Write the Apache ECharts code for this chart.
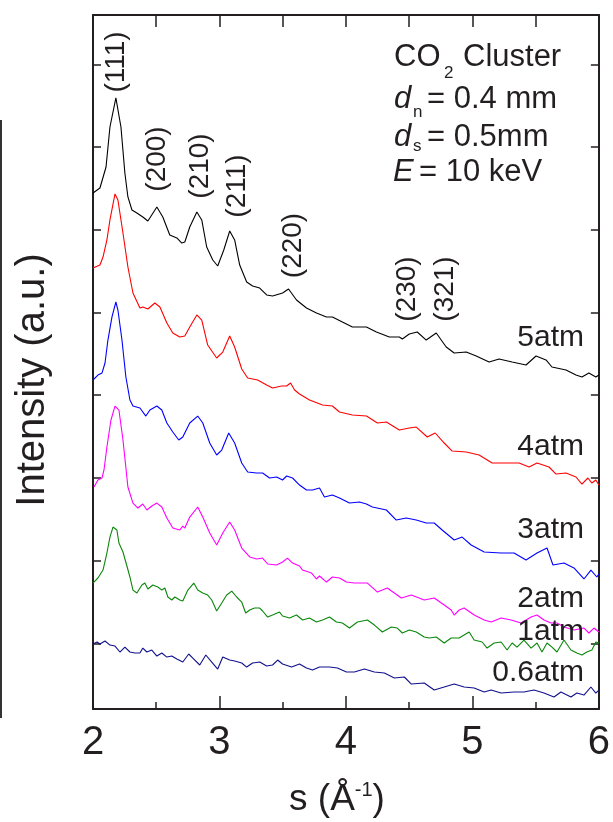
<!DOCTYPE html>
<html>
<head>
<meta charset="utf-8">
<script src="https://cdn.jsdelivr.net/npm/echarts@6/dist/echarts.min.js"></script>
<style>
html,body{margin:0;padding:0;background:#fff;}
#c{width:613px;height:822px;}
</style>
</head>
<body>
<div id="c"></div>
<script>
// s (1/Angstrom) and intensity (a.u.) for each pressure
const s5 = [2.000,2.055,2.103,2.134,2.181,2.221,2.252,2.276,2.308,2.347,2.394,2.434,2.505,2.552,2.607,2.663,2.702,2.726,2.765,2.821,2.860,2.899,2.947,2.986,3.034,3.081,3.120,3.160,3.215,3.262,3.318,3.373,3.420,3.499,3.546,3.609,3.688,3.767,3.846,3.893,3.972,4.051,4.162,4.241,4.343,4.422,4.446,4.501,4.564,4.635,4.714,4.793,4.856,4.951,5.030,5.132,5.211,5.314,5.424,5.503,5.582,5.629,5.740,5.819,5.866,5.921,5.976,6.000];
const i5 = [64.45,65.05,67.59,72.43,75.94,72.43,66.87,63.97,62.39,62.03,61.55,61.06,62.76,61.55,59.37,59.01,58.40,58.52,60.34,62.15,61.19,57.92,56.35,55.62,57.56,59.85,58.77,55.74,53.69,53.20,52.96,52.12,52.00,52.36,52.84,51.51,50.54,49.94,49.46,49.46,48.85,48.25,48.25,47.64,47.04,47.04,46.80,47.40,47.64,46.67,47.52,45.83,45.10,45.22,44.74,44.01,44.38,44.01,43.65,44.74,44.26,43.41,43.05,42.44,42.20,42.68,42.20,42.44];

const s4 = [2.000,2.055,2.079,2.110,2.134,2.174,2.197,2.237,2.276,2.316,2.371,2.394,2.434,2.489,2.529,2.584,2.631,2.686,2.726,2.765,2.821,2.860,2.907,2.978,3.026,3.081,3.120,3.176,3.223,3.302,3.373,3.420,3.491,3.531,3.562,3.594,3.633,3.712,3.815,3.893,3.949,4.051,4.162,4.249,4.320,4.422,4.501,4.556,4.643,4.706,4.777,4.840,4.951,5.053,5.156,5.266,5.369,5.448,5.511,5.606,5.661,5.740,5.819,5.866,5.913,5.945,5.976,6.000];
const i4 = [55.38,55.74,56.71,58.77,61.19,64.33,63.60,59.61,55.50,52.36,50.54,50.67,50.42,51.15,50.67,48.73,47.52,47.04,47.16,48.25,49.70,49.09,46.07,44.50,45.22,47.16,45.83,43.17,42.08,41.84,41.23,40.87,41.11,41.11,41.48,40.63,40.15,39.42,38.81,38.69,37.97,37.61,37.48,36.64,36.76,35.79,36.03,36.15,34.95,35.43,34.22,33.25,33.13,32.77,31.80,31.80,31.80,31.32,31.80,31.32,30.47,30.59,30.11,29.26,29.99,29.38,29.75,29.14];

const s3 = [2.000,2.039,2.071,2.095,2.118,2.150,2.181,2.197,2.229,2.260,2.292,2.316,2.371,2.418,2.450,2.505,2.544,2.584,2.631,2.678,2.710,2.765,2.828,2.868,2.923,2.978,3.018,3.073,3.120,3.176,3.223,3.294,3.341,3.396,3.452,3.499,3.531,3.578,3.633,3.688,3.736,3.791,3.830,3.893,3.949,4.028,4.107,4.162,4.209,4.320,4.398,4.477,4.556,4.635,4.698,4.761,4.856,4.919,4.990,5.093,5.227,5.329,5.424,5.511,5.590,5.637,5.724,5.803,5.882,5.937,5.984,6.000];
const i3 = [41.84,42.44,42.68,43.89,46.67,49.46,51.27,50.30,46.67,42.20,39.42,38.69,38.45,37.48,38.21,38.69,38.21,36.64,35.55,34.58,34.95,36.64,37.48,36.64,34.22,32.77,33.37,35.43,34.22,31.80,30.71,30.59,30.59,29.99,30.11,29.75,30.23,29.99,29.14,28.54,28.54,28.78,27.69,27.93,27.57,26.96,27.09,26.84,26.48,26.12,24.91,25.15,24.91,24.55,24.55,23.70,22.49,22.85,21.89,21.04,20.92,20.92,20.07,20.92,21.52,19.47,19.71,19.11,17.78,18.86,18.02,18.38];

const s2 = [2.008,2.039,2.071,2.087,2.110,2.142,2.174,2.205,2.237,2.276,2.316,2.355,2.394,2.426,2.465,2.505,2.544,2.584,2.631,2.686,2.710,2.726,2.765,2.828,2.868,2.923,2.978,3.026,3.081,3.120,3.176,3.239,3.294,3.341,3.381,3.452,3.499,3.538,3.578,3.633,3.657,3.728,3.767,3.791,3.846,3.893,3.949,4.004,4.067,4.170,4.249,4.327,4.438,4.517,4.619,4.698,4.777,4.832,4.856,4.895,4.935,5.014,5.093,5.148,5.227,5.306,5.385,5.464,5.511,5.566,5.621,5.669,5.724,5.803,5.882,5.921,5.961,6.000];
const i2 = [28.90,29.75,29.99,30.96,33.74,37.00,38.69,38.21,34.58,28.90,26.96,26.36,26.84,26.12,26.60,26.96,26.48,25.15,23.94,23.70,24.18,23.94,25.27,26.48,25.27,23.34,21.89,23.34,24.67,23.70,21.52,20.44,20.19,20.31,19.59,19.47,19.83,20.31,19.71,19.35,18.86,18.50,17.78,18.14,17.41,18.02,17.90,17.41,17.29,17.29,16.20,16.69,15.48,15.84,15.24,15.48,14.63,14.03,13.42,14.03,14.27,13.42,12.82,12.58,13.06,12.82,12.45,13.18,13.42,12.82,12.45,12.45,11.97,11.61,11.85,11.25,11.85,11.37];

const s1 = [2.000,2.039,2.079,2.110,2.134,2.158,2.189,2.205,2.237,2.268,2.292,2.316,2.347,2.387,2.410,2.434,2.473,2.513,2.544,2.568,2.592,2.623,2.647,2.686,2.710,2.750,2.797,2.828,2.868,2.907,2.939,2.978,3.018,3.057,3.097,3.136,3.176,3.207,3.239,3.278,3.318,3.341,3.381,3.420,3.475,3.499,3.554,3.609,3.657,3.712,3.767,3.815,3.870,3.925,3.972,4.028,4.091,4.170,4.225,4.288,4.359,4.406,4.446,4.501,4.556,4.619,4.659,4.714,4.777,4.832,4.895,4.974,5.014,5.077,5.116,5.172,5.227,5.274,5.314,5.353,5.408,5.464,5.511,5.550,5.590,5.629,5.669,5.724,5.779,5.826,5.866,5.905,5.945,5.976,6.000];
const i1 = [17.29,17.90,18.86,20.92,22.85,24.06,23.70,22.13,21.04,19.35,18.02,16.44,16.08,17.05,17.29,16.57,17.05,16.81,16.44,16.69,15.60,15.24,15.60,15.24,15.11,16.44,17.29,16.44,16.08,15.84,15.24,13.91,14.87,15.84,16.32,15.60,14.99,13.66,14.03,14.27,14.27,13.91,13.18,13.42,13.78,13.30,13.06,13.42,12.82,13.06,12.58,12.82,13.18,12.58,12.45,11.85,12.58,12.82,12.21,11.37,11.97,11.85,11.25,11.61,11.37,10.76,10.64,10.76,10.04,10.64,10.64,11.37,10.40,10.16,9.43,10.04,10.16,9.19,10.04,9.55,10.40,9.43,10.04,8.95,10.04,9.55,8.95,10.40,9.19,8.83,8.59,8.95,9.19,10.16,10.04];

const s06 = [2.000,2.032,2.055,2.095,2.134,2.174,2.213,2.252,2.292,2.331,2.371,2.394,2.426,2.465,2.505,2.544,2.584,2.623,2.663,2.710,2.757,2.789,2.844,2.892,2.939,2.986,3.026,3.081,3.120,3.176,3.215,3.262,3.318,3.373,3.420,3.460,3.499,3.570,3.633,3.688,3.736,3.791,3.870,3.933,4.004,4.067,4.146,4.225,4.304,4.383,4.462,4.517,4.619,4.698,4.777,4.856,4.935,5.014,5.093,5.148,5.227,5.329,5.408,5.487,5.566,5.645,5.700,5.779,5.826,5.882,5.937,5.976,6.000];
const i06 = [9.92,10.16,9.92,10.28,9.79,9.67,8.95,9.55,8.95,8.83,8.83,9.43,8.95,9.19,8.46,8.83,8.34,8.46,8.10,7.74,8.71,8.22,7.38,8.59,7.74,6.89,8.34,7.98,7.86,7.62,7.13,7.62,7.74,7.26,7.38,7.98,7.50,7.13,7.50,7.01,6.77,7.13,7.13,7.01,6.53,6.53,6.89,6.53,6.41,5.80,5.93,5.08,5.20,4.35,4.72,5.08,4.72,4.59,4.11,4.35,3.99,4.11,4.11,4.35,3.99,3.51,4.11,3.51,3.99,3.75,4.72,3.99,4.35];

const xTicks = [2, 3, 4, 5, 6];
const yTickValues = [10, 20, 30, 40, 50, 60, 70, 80];
const pressureLabels = ['5atm', '4atm', '3atm', '2atm', '1atm', '0.6atm'];
const peakLabels = ['(111)', '(200)', '(210)', '(211)', '(220)', '(230)', '(321)'];

function pairs(s, v) {
  const n = Math.min(s.length, v.length);
  const out = [];
  for (let k = 0; k < n; k++) out.push([s[k], v[k]]);
  return out;
}

const FONT = '"Liberation Sans", Arial, Helvetica, sans-serif';
const INK = '#231f20';
const seriesDefs = [
  { name: '5atm', s: s5, v: i5, color: '#000000' },
  { name: '4atm', s: s4, v: i4, color: '#ff0000' },
  { name: '3atm', s: s3, v: i3, color: '#0000ff' },
  { name: '2atm', s: s2, v: i2, color: '#ff00ff' },
  { name: '1atm', s: s1, v: i1, color: '#0b870b' },
  { name: '0.6atm', s: s06, v: i06, color: '#10108c' }
];

const chart = echarts.init(document.getElementById('c'), null, { renderer: 'canvas' });

function txt(x, y, text, size, opts) {
  opts = opts || {};
  return {
    type: 'text', x: x, y: y, rotation: opts.rot || 0, z: 100,
    style: {
      text: text, x: 0, y: 0,
      font: (opts.italic ? 'italic ' : '') + size + 'px ' + FONT,
      fill: INK,
      textAlign: opts.align || 'left',
      textVerticalAlign: 'middle',
      rich: opts.rich
    }
  };
}

const pressurePos = [338, 447, 530, 599, 632, 673];
const peakPos = [[116, 62], [157.5, 159], [200, 166], [237, 186], [293, 245.5], [407, 289], [445, 289]];

const graphics = [];
// left edge artifact line
graphics.push({ type: 'line', shape: { x1: 1, y1: 120, x2: 1, y2: 718 }, style: { stroke: '#333', lineWidth: 2 } });
pressureLabels.forEach((t, k) => graphics.push(txt(584, pressurePos[k], t, 30, { align: 'right' })));
peakLabels.forEach((t, k) => graphics.push(txt(peakPos[k][0], peakPos[k][1], t, 28, { align: 'center', rot: Math.PI / 2 })));
// info block
graphics.push(txt(394, 57.5, 'CO', 31));
graphics.push(txt(444, 73.5, '2', 17));
graphics.push(txt(463, 57.5, 'Cluster', 31));
graphics.push(txt(394, 99, 'd', 31, { italic: true }));
graphics.push(txt(413, 112, 'n', 17));
graphics.push(txt(427, 99, '= 0.4 mm', 31));
graphics.push(txt(394, 137.5, 'd', 31, { italic: true }));
graphics.push(txt(413, 146, 's', 17));
graphics.push(txt(427, 137.5, '= 0.5mm', 31));
graphics.push(txt(393, 172.5, 'E', 31, { italic: true }));
graphics.push(txt(419, 172.5, '= 10 keV', 31));
// axis titles
graphics.push(txt(33, 380, 'Intensity (a.u.)', 40, { align: 'center', rot: Math.PI / 2 }));
graphics.push(txt(337, 800, '{a|s (Å}{b|-1}{a|)}', 37, {
  align: 'center',
  rich: {
    a: { fontSize: 37, fontFamily: FONT, fill: INK, color: INK, lineHeight: 40 },
    b: { fontSize: 20, fontFamily: FONT, fill: INK, color: INK, verticalAlign: 'top', lineHeight: 40 }
  }
}));

const axisLineStyle = { color: INK, width: 2 };

const option = {
  animation: false,
  backgroundColor: '#ffffff',
  grid: { left: 93, right: 13, top: 15, bottom: 113, containLabel: false },
  xAxis: [
    {
      type: 'value', position: 'bottom', min: 2, max: 6, interval: 1,
      axisLine: { show: true, onZero: false, lineStyle: axisLineStyle },
      axisTick: { show: true, inside: true, length: 13, lineStyle: { color: INK, width: 1.5 } },
      minorTick: { show: true, splitNumber: 2, length: 7, lineStyle: { color: INK, width: 1.5 } },
      axisLabel: {
        show: true, margin: 14, fontSize: 40, fontFamily: FONT, color: INK,
        formatter: v => (xTicks.indexOf(v) >= 0 ? String(v) : '')
      },
      splitLine: { show: false }
    },
    {
      type: 'value', position: 'top', min: 2, max: 6, interval: 0.5,
      axisLine: { show: true, onZero: false, lineStyle: axisLineStyle },
      axisTick: { show: true, inside: true, length: 12, lineStyle: { color: INK, width: 1.5 } },
      axisLabel: { show: false },
      splitLine: { show: false }
    }
  ],
  yAxis: [
    {
      type: 'value', position: 'left', min: 2.06, max: 85.97,
      axisLine: { show: true, onZero: false, lineStyle: axisLineStyle },
      axisTick: { show: true, inside: true, length: 8, customValues: yTickValues, lineStyle: { color: INK, width: 1.5 } },
      axisLabel: { show: false },
      splitLine: { show: false }
    },
    {
      type: 'value', position: 'right', min: 2.06, max: 85.97,
      axisLine: { show: true, onZero: false, lineStyle: axisLineStyle },
      axisTick: { show: true, inside: true, length: 8, customValues: yTickValues, lineStyle: { color: INK, width: 1.5 } },
      axisLabel: { show: false },
      splitLine: { show: false }
    }
  ],
  series: seriesDefs.map(d => ({
    name: d.name, type: 'line', xAxisIndex: 0, yAxisIndex: 0,
    data: pairs(d.s, d.v), showSymbol: false, symbol: 'none', smooth: false,
    lineStyle: { color: d.color, width: 1.1 }, itemStyle: { color: d.color },
    z: 5
  })),
  graphic: graphics
};

chart.setOption(option);
</script>
</body>
</html>
